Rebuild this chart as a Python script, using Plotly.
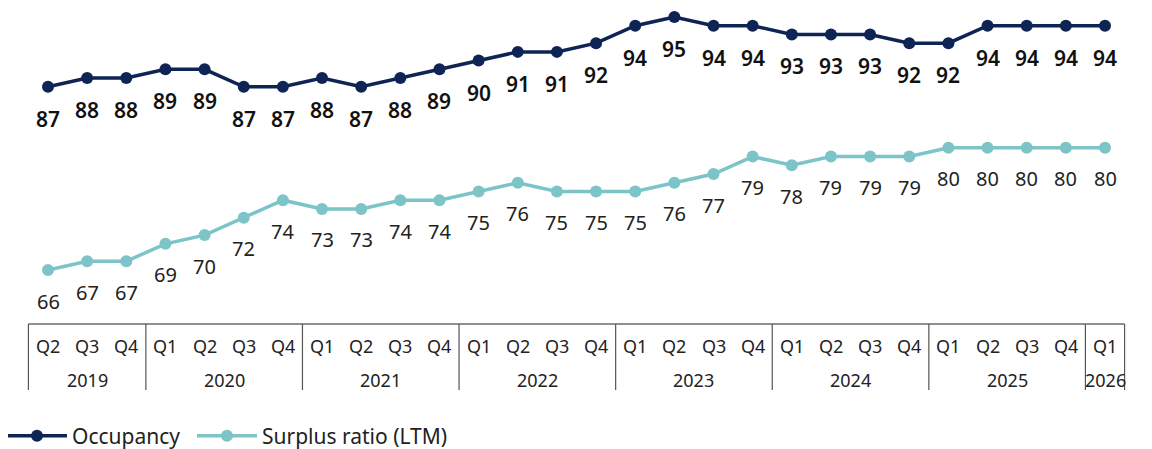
import plotly.graph_objects as go

quarters = ["Q2", "Q3", "Q4",
            "Q1", "Q2", "Q3", "Q4",
            "Q1", "Q2", "Q3", "Q4",
            "Q1", "Q2", "Q3", "Q4",
            "Q1", "Q2", "Q3", "Q4",
            "Q1", "Q2", "Q3", "Q4",
            "Q1", "Q2", "Q3", "Q4",
            "Q1"]
years = ["2019", "2020", "2021", "2022", "2023", "2024", "2025", "2026"]
year_counts = [3, 4, 4, 4, 4, 4, 4, 1]

occupancy = [87, 88, 88, 89, 89, 87, 87, 88, 87, 88, 89, 90, 91, 91, 92, 94,
             95, 94, 94, 93, 93, 93, 92, 92, 94, 94, 94, 94]
surplus = [66, 67, 67, 69, 70, 72, 74, 73, 73, 74, 74, 75, 76, 75, 75, 75,
           76, 77, 79, 78, 79, 79, 79, 80, 80, 80, 80, 80]

NAVY = "#0E2454"
TEAL = "#7CC4C8"
FONT = "Noto Sans"

x = list(range(len(quarters)))

fig = go.Figure()
fig.add_trace(go.Scatter(
    x=x, y=occupancy, mode="lines+markers", name="Occupancy", legend="legend",
    line=dict(color=NAVY, width=3.5), marker=dict(color=NAVY, size=12)))
fig.add_trace(go.Scatter(
    x=x, y=surplus, mode="lines+markers", name="Surplus ratio (LTM)", legend="legend2",
    line=dict(color=TEAL, width=3.5), marker=dict(color=TEAL, size=12)))

annotations = []
for i, v in enumerate(occupancy):
    annotations.append(dict(x=i, y=v, xref="x", yref="y", text=str(v), showarrow=False,
                            yshift=-32, font=dict(family=FONT, size=21, color="#111111", weight=600)))
for i, v in enumerate(surplus):
    annotations.append(dict(x=i, y=v, xref="x", yref="y", text=str(v), showarrow=False,
                            yshift=-31, font=dict(family=FONT, size=20, color="#222222")))

H = 449
W = 1152
OFF = 8  # page body margin


def py(px):
    return 1 - (px - OFF) / H


def pxx(px):
    return (px - OFF) / W


for i, q in enumerate(quarters):
    annotations.append(dict(x=i, y=py(346), xref="x", yref="paper", text=q, showarrow=False,
                            yanchor="middle", font=dict(family=FONT, size=18, color="#222222")))

shapes = []
start = 0
bounds = [-0.5]
for yr, n in zip(years, year_counts):
    center = start + (n - 1) / 2
    annotations.append(dict(x=center, y=py(380), xref="x", yref="paper", text=yr, showarrow=False,
                            yanchor="middle", font=dict(family=FONT, size=18, color="#222222")))
    start += n
    bounds.append(start - 0.5)

shapes.append(dict(type="line", xref="x", yref="paper", x0=-0.5, x1=len(quarters) - 0.5,
                   y0=py(324), y1=py(324), line=dict(color="#222222", width=1.2)))
for b in bounds:
    shapes.append(dict(type="line", xref="x", yref="paper", x0=b, x1=b,
                       y0=py(324), y1=py(390), line=dict(color="#555555", width=1.2)))

legend_common = dict(orientation="h", y=py(436), xanchor="left", yanchor="middle",
                     font=dict(family=FONT, size=21, color="#222222"),
                     itemwidth=60, bgcolor="rgba(0,0,0,0)")

fig.update_layout(
    width=W, height=H,
    margin=dict(l=0, r=0, t=0, b=0, autoexpand=False),
    paper_bgcolor="white", plot_bgcolor="white",
    showlegend=True,
    legend=dict(x=pxx(2), **legend_common),
    legend2=dict(x=pxx(192), **legend_common),
    xaxis=dict(range=[-1.0217, 28.405], showgrid=False, zeroline=False, showticklabels=False,
               showline=False, domain=[0, 1]),
    yaxis=dict(range=[59.925, 96.03], domain=[py(323), 1], showgrid=False, zeroline=False,
               showticklabels=False, showline=False),
    annotations=annotations,
    shapes=shapes,
)

fig.write_html("out.html")
